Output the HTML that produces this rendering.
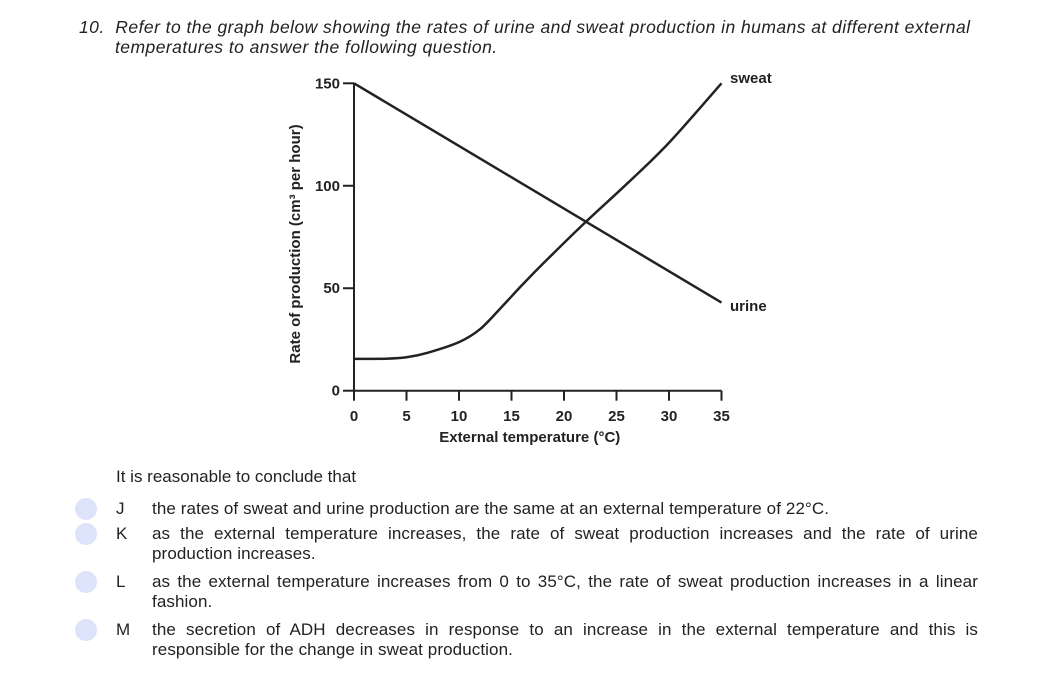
<!DOCTYPE html>
<html><head><meta charset="utf-8"><style>
body{margin:0;width:1042px;height:700px;background:#fff;font-family:"Liberation Sans",sans-serif;color:#222;position:relative;overflow:hidden}
.t{position:absolute;font-size:17px;line-height:20px}
.q{font-style:italic;left:79px;top:17px;width:960px;font-size:17.5px;letter-spacing:0.45px;white-space:nowrap}
.dot{position:absolute;left:75px;width:22px;height:22px;border-radius:50%;background:#dde3fb}
.let{position:absolute;left:116px;font-size:17px}
.txt{position:absolute;left:152px;width:826px;font-size:17px;line-height:20px;letter-spacing:0.1px}
.j{display:block;text-align:justify;text-align-last:justify;white-space:nowrap}
</style></head><body>
<div class="t q">10.&nbsp; Refer to the graph below showing the rates of urine and sweat production in humans at different external<br><span style="padding-left:36px">temperatures to answer the following question.</span></div>
<svg width="1042" height="460" style="position:absolute;left:0;top:0" id="chart"></svg>
<div class="t" style="left:116px;top:467px">It is reasonable to conclude that</div>
<div class="dot" style="top:498px"></div>
<div class="let" style="top:499px">J</div>
<div class="txt" style="top:499px">the rates of sweat and urine production are the same at an external temperature of 22°C.</div>
<div class="dot" style="top:523px"></div>
<div class="let" style="top:524px">K</div>
<div class="txt" style="top:524px"><span class="j">as the external temperature increases, the rate of sweat production increases and the rate of urine</span>production increases.</div>
<div class="dot" style="top:571px"></div>
<div class="let" style="top:572px">L</div>
<div class="txt" style="top:572px"><span class="j">as the external temperature increases from 0 to 35°C, the rate of sweat production increases in a linear</span>fashion.</div>
<div class="dot" style="top:619px"></div>
<div class="let" style="top:620px">M</div>
<div class="txt" style="top:620px"><span class="j">the secretion of ADH decreases in response to an increase in the external temperature and this is</span>responsible for the change in sweat production.</div>
<script>
const xTicks=[0,5,10,15,20,25,30,35];
const yTicks=[0,50,100,150];
const sweatX=[0,3,5,7,10,12,14,16,18,22,26,30,35];
const sweatY=[15.5,15.6,16.3,18.5,23.7,30,40.5,51.5,62,82,101,121,150];
const urineX=[0,35];
const urineY=[150,43];
const NS="http://www.w3.org/2000/svg";
const svg=document.getElementById('chart');
const X=v=>354+v*(721.5-354)/35;
const Y=v=>390.7-v*(390.7-83.3)/150;
function el(t,a,txt){const e=document.createElementNS(NS,t);for(const k in a)e.setAttribute(k,a[k]);if(txt!==undefined)e.textContent=txt;svg.appendChild(e);return e;}
const stroke={stroke:'#222','stroke-width':2,fill:'none'};
let ax=el('path',Object.assign({d:`M${X(0)},${Y(150)}V${Y(0)}H${X(35)}`},stroke));


yTicks.forEach(v=>{
 let l=el('line',Object.assign({x1:X(0)-11,x2:X(0),y1:Y(v),y2:Y(v)},stroke));
 
 
 let t=el('text',{x:X(0)-14,y:Y(v)+5,'text-anchor':'end','font-size':15,'font-weight':'bold',fill:'#222'},v);
 
 
});
xTicks.forEach(v=>{
 let l=el('line',Object.assign({x1:X(v),x2:X(v),y1:Y(0),y2:Y(0)+10},stroke));
 
 
 let t=el('text',{x:X(v),y:421,'text-anchor':'middle','font-size':15,'font-weight':'bold',fill:'#222'},v);
 
 
});
let xt=el('text',{x:X(17.5)-8,y:442,'text-anchor':'middle','font-size':15,'font-weight':'bold',fill:'#222'},'External temperature (°C)');


let yt=el('text',{x:0,y:0,transform:`translate(300,${(Y(0)+Y(150))/2+7}) rotate(-90)`,'text-anchor':'middle','font-size':15,'font-weight':'bold',fill:'#222'},'Rate of production (cm³ per hour)');


const P=sweatX.map((x,i)=>[X(x),Y(sweatY[i])]);
let d=`M${P[0][0]},${P[0][1]}`;
for(let i=0;i<P.length-1;i++){const p0=P[i-1]||P[i],p1=P[i],p2=P[i+1],p3=P[i+2]||p2;
 d+=`C${p1[0]+(p2[0]-p0[0])/6},${p1[1]+(p2[1]-p0[1])/6} ${p2[0]-(p3[0]-p1[0])/6},${p2[1]-(p3[1]-p1[1])/6} ${p2[0]},${p2[1]}`;}
let s=el('path',Object.assign({d},stroke,{'stroke-width':2.5}));


let u=el('path',Object.assign({d:'M'+urineX.map((x,i)=>X(x)+','+Y(urineY[i])).join('L')},stroke,{'stroke-width':2.5}));


let ls=el('text',{x:730,y:83,'font-size':15,'font-weight':'bold',fill:'#222'},'sweat');


let lu=el('text',{x:730,y:311,'font-size':15,'font-weight':'bold',fill:'#222'},'urine');


</script>
</body></html>
